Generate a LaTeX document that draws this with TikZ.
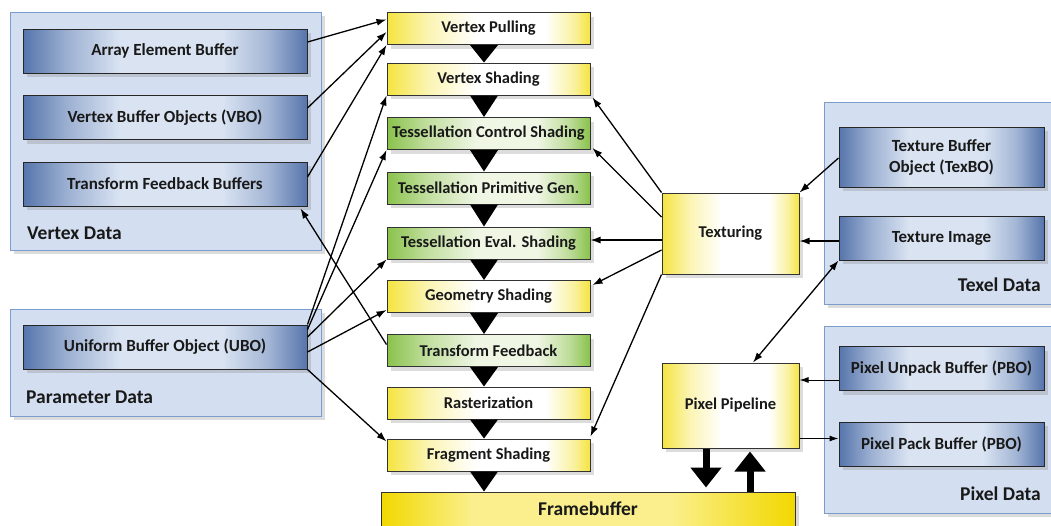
\documentclass[tikz,border=0pt]{standalone}
\usepackage{fontspec}
\setmainfont{Carlito}
\usetikzlibrary{arrows.meta,shadows,calc}

\definecolor{grpfill}{HTML}{D3DEF0}
\definecolor{grpdraw}{HTML}{7C9CCB}
\definecolor{bufdark}{HTML}{5675AC}
\definecolor{buflight}{HTML}{D9E3F2}
\definecolor{ylw}{HTML}{F5E440}
\definecolor{grn}{HTML}{8AC24C}
\definecolor{grnlight}{HTML}{EFF6E4}
\definecolor{fbdark}{HTML}{F2D800}
\definecolor{fblight}{HTML}{FAEF8C}

% horizontal fills: the 25bp..75bp band is stretched over the node
\pgfdeclarehorizontalshading{bufshade}{100bp}{color(0bp)=(bufdark); color(25bp)=(bufdark); color(33bp)=(bufdark!45!buflight); color(42bp)=(buflight); color(60bp)=(buflight); color(68bp)=(bufdark!40!buflight); color(75bp)=(bufdark); color(100bp)=(bufdark)}
\pgfdeclarehorizontalshading{yelshade}{100bp}{color(0bp)=(ylw); color(25bp)=(ylw); color(35bp)=(ylw!40!white); color(47bp)=(white); color(64bp)=(white); color(71bp)=(ylw!50!white); color(75bp)=(ylw); color(100bp)=(ylw)}
\pgfdeclarehorizontalshading{grnshade}{100bp}{color(0bp)=(grn); color(25bp)=(grn); color(35bp)=(grn!45!grnlight); color(47bp)=(grnlight); color(62bp)=(grnlight); color(70bp)=(grn!50!grnlight); color(75bp)=(grn); color(100bp)=(grn)}
\pgfdeclarehorizontalshading{fbshade}{100bp}{color(0bp)=(fbdark); color(25bp)=(fbdark); color(36bp)=(fblight); color(60bp)=(fblight); color(75bp)=(fbdark); color(100bp)=(fbdark)}

\tikzset{
  softshadow/.style={drop shadow={opacity=0.28, shadow xshift=4pt, shadow yshift=-4pt}},
  grp/.style={draw=grpdraw, fill=grpfill, line width=0.9pt, inner sep=0pt, softshadow},
  txt/.style={font=\fontsize{16.5}{21}\selectfont\bfseries, text=black!90, align=center, inner sep=0pt},
  buf/.style={txt, font=\fontsize{17}{21}\selectfont\bfseries, draw=black!85, line width=1pt, shade, shading=bufshade,
    minimum width=284pt, minimum height=44pt, softshadow},
  rbuf/.style={buf, minimum width=205pt},
  stg/.style={txt, draw=black!80, line width=1pt, minimum width=203pt, minimum height=32pt, softshadow},
  ystg/.style={stg, shade, shading=yelshade},
  gstg/.style={stg, shade, shading=grnshade},
  unit/.style={txt, draw=black!80, line width=1pt, shade, shading=yelshade, minimum width=137pt, softshadow},
  glabel/.style={font=\fontsize{19.5}{22}\selectfont\bfseries, text=black!90, inner sep=0pt},
  link/.style={line width=1.3pt, -{Latex[length=10pt,width=7pt]}},
  duallink/.style={line width=1.3pt, {Latex[length=10pt,width=7pt]}-{Latex[length=10pt,width=7pt]}},
  thinlink/.style={line width=1pt, -{Latex[length=9pt,width=6pt]}},
  bigarrow/.style={line width=7pt, -{Triangle[length=20pt,width=30pt]}},
}

\begin{document}
\begin{tikzpicture}[x=1pt, y=-1pt]
\useasboundingbox (0,0) rectangle (1051,525);

% data groups
\node[grp, minimum width=311pt, minimum height=238pt] (vd) at (165.5,131) {};
\node[grp, minimum width=311pt, minimum height=107pt] (pd) at (165.5,362.5) {};
\node[grp, minimum width=236pt, minimum height=202pt] (td) at (942,203) {};
\node[grp, minimum width=236pt, minimum height=187pt] (xd) at (942,419.5) {};

\node[glabel, anchor=west] (vdl) at (27,233) {Vertex Data};
\node[glabel, anchor=west] (pdl) at (26,397) {Parameter Data};
\node[glabel, anchor=east] (tdl) at (1041,285) {Texel Data};
\node[glabel, anchor=east] (xdl) at (1041,494) {Pixel Data};

% buffers
\node[buf] (aeb) at (165,51) {Array Element Buffer};
\node[buf] (vbo) at (165,117.5) {Vertex Buffer Objects (VBO)};
\node[buf] (tfb) at (165,184) {Transform Feedback Buffers};
\node[buf] (ubo) at (165,347) {Uniform Buffer Object (UBO)};
\node[rbuf, minimum height=60pt] (texbo) at (941.5,157) {Texture Buffer\\Object (TexBO)};
\node[rbuf] (timg) at (941.5,238) {Texture Image};
\node[rbuf] (pub) at (941.5,368.5) {Pixel Unpack Buffer (PBO)};
\node[rbuf] (ppb) at (941.5,444) {Pixel Pack Buffer (PBO)};

% pipeline stages
\node[ystg] (vp)  at (488.5,28.5)  {Vertex Pulling};
\node[ystg] (vs)  at (488.5,79)    {Vertex Shading};
\node[gstg] (tcs) at (488.5,133.5) {Tessellation Control Shading};
\node[gstg] (tpg) at (488.5,188)   {Tessellation Primitive Gen.};
\node[gstg] (tes) at (488.5,243)   {Tessellation Eval. Shading};
\node[ystg] (gs)  at (488.5,296.5) {Geometry Shading};
\node[gstg] (tf)  at (488.5,350.5) {Transform Feedback};
\node[ystg] (ras) at (488.5,403)   {Rasterization};
\node[ystg] (fs)  at (488.5,455)   {Fragment Shading};

\node[unit, minimum height=81pt] (tex) at (730.5,233.5) {Texturing};
\node[unit, minimum height=85pt] (pp)  at (730.5,405.5) {Pixel Pipeline};

\node[draw=black!80, line width=1pt, shade, shading=fbshade, minimum width=414pt,
  minimum height=48pt, text depth=14pt, inner sep=0pt, softshadow,
  font=\fontsize{19.5}{22}\selectfont\bfseries, text=black!90] (fb) at (588,516) {Framebuffer};

% flow triangles between stages
\foreach \a/\b in {vp/vs, vs/tcs, tcs/tpg, tpg/tes, tes/gs, gs/tf, tf/ras, ras/fs}
  \fill ($(\a.south)+(-18.5,0)$) -- ($(\a.south)+(9.5,0)$) -- ($(\b.north)+(-4.5,0)$) -- cycle;
\coordinate (fsapex) at ($(fs.south)+(-4.5,0)$);
\fill ($(fs.south)+(-18.5,0)$) -- ($(fs.south)+(9.5,0)$) -- (fsapex |- fb.north) -- cycle;

% vertex and parameter data inputs
\draw[link] ($(aeb.east)+(0,-9)$) -- ($(vp.west)+(0,-9)$);
\draw[link] ($(vbo.east)+(0,-9.5)$) -- ($(vp.west)+(0,3.5)$);
\draw[link] ($(tfb.east)+(0,-7)$) -- (vp.south west);
\draw[link] (ubo.north east) -- (vs.south west);
\draw[link] ($(ubo.north east)+(0,5)$) -- (tcs.south west);
\draw[link] ($(ubo.east)+(0,-10)$) -- (tes.south west);
\draw[link] ($(ubo.east)+(0,5)$) -- ($(gs.south west)+(0,-3)$);
\draw[link] (ubo.south east) -- ($(fs.north west)+(0,3)$);
\draw[link] ($(tf.west)+(0,-6)$) -- ($(tfb.south east)+(-7,2)$);

% texturing outputs
\draw[link] (tex.north west) -- ($(vs.south east)+(2,2)$);
\draw[link] ($(tex.west)+(0,-16.5)$) -- ($(tcs.south east)+(2,-2)$);
\draw[link] ($(tex.west)+(0,6.5)$) -- ($(tes.east)+(0,-3)$);
\draw[link] ($(tex.west)+(0,16.5)$) -- ($(gs.east)+(2,-11.5)$);
\draw[link] (tex.south west) -- ($(fs.north east)+(0,-2)$);

% texel data
\draw[link] ($(texbo.west)+(0,1)$) -- (tex.north east);
\draw[link] ($(timg.west)+(0,3)$) -- ($(tex.east)+(0,7.5)$);
\draw[duallink] (timg.south west) -- ($(pp.north)+(22.5,0)$);

% pixel data
\draw[thinlink] ($(pub.west)+(0,11.5)$) -- ($(pp.east)+(0,-25.5)$);
\draw[thinlink] ($(pp.east)+(0,33)$) -- ($(ppb.west)+(0,-5.5)$);

% framebuffer traffic
\coordinate (dnx) at ($(pp.south)+(-24.5,0)$);
\coordinate (upx) at ($(pp.south)+(19.5,0)$);
\draw[bigarrow] (dnx) -- ($(dnx |- fb.north)+(0,-4)$);
\draw[bigarrow] (upx |- fb.north) -- ($(upx)+(0,3)$);
\end{tikzpicture}
\end{document}
